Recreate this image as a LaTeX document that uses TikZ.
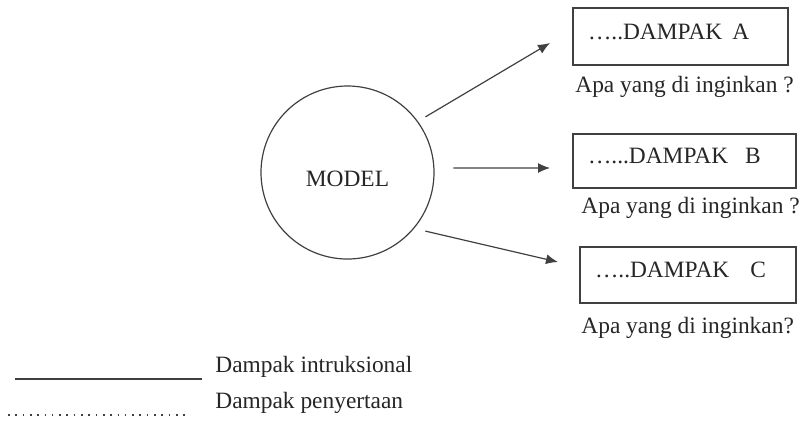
\documentclass[tikz,border=0pt]{standalone}
\usepackage{fontspec}
\setmainfont{Liberation Serif}
\usetikzlibrary{arrows.meta, positioning}

\begin{document}
\begin{tikzpicture}[x=0.5pt, y=-0.5pt,
		every node/.style={font=\fontsize{11.7}{14}\selectfont, inner sep=0pt, text=black!85},
		line/.style={black!75, line width=0.6pt},
		arrow/.style={line, -{Latex[length=6pt, width=5pt]}},
		dampak/.style={draw=black!75, line width=0.6pt, align=left, inner xsep=7.5pt, inner ysep=0pt, text height=8pt, text depth=5.25pt}]
		\useasboundingbox (0,0) rectangle (804,420);
		% model
		\node [draw=black!75, line width=0.6pt, circle, minimum size=86.5pt, text height=14pt, text depth=0pt] (model) at (347.5,172.5) {MODEL};
		% boxes and captions
		\node [dampak, text width=92.5pt, minimum height=28.5pt] (boxA) at (680.5,36.5) {…..DAMPAK\hspace{5pt}A};
		\node [dampak, text width=96.5pt, minimum height=27pt] (boxB) at (684.5,161) {…...DAMPAK\hspace{8.5pt}B};
		\node [dampak, text width=93pt, minimum height=28pt] (boxC) at (688,275) {…..DAMPAK\hspace{10.5pt}C};
		\node [anchor=base west] (capA) at (575,92) {Apa yang di inginkan ?};
		\node [anchor=base west] (capB) at (581,213) {Apa yang di inginkan ?};
		\node [anchor=base west] (capC) at (581,333) {Apa yang di inginkan?};
		% arrows
		\coordinate (tipA) at (550,43);
		\coordinate (tipB) at (550,168);
		\coordinate (tipC) at (558,262);
		\draw [arrow, shorten <=4.4pt] (model.36) -- (tipA);
		\draw [arrow, shorten <=9.5pt] (model.3) -- (tipB);
		\draw [arrow, shorten <=5.7pt] (model.-40) -- (tipC);
		% legend
		\node [anchor=base west] (legSolid) at (215,372) {Dampak intruksional};
		\node [anchor=base west] (legDot) at (215,408) {Dampak penyertaan};
		\draw [line] (15,379) -- (202,379);
		\draw [line, line width=0.8pt, dash pattern=on 0.8pt off 2.85pt] (8,415) -- (187,415);
	\end{tikzpicture}
\end{document}
